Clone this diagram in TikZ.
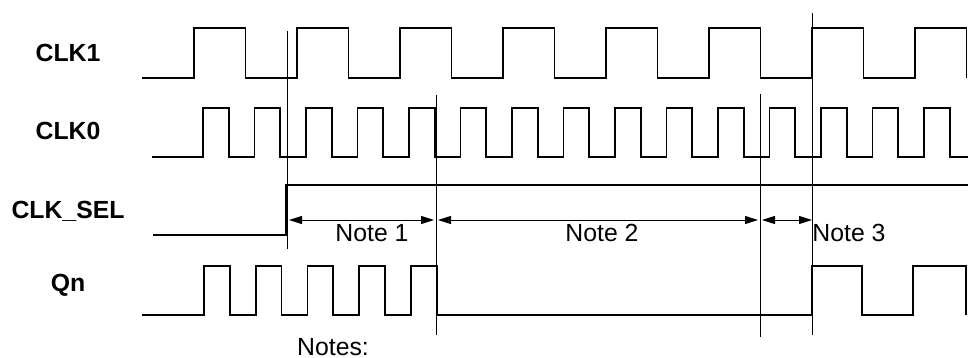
\documentclass[tikz,border=0pt]{standalone}
\usepackage{fontspec}
\setmainfont{Liberation Sans}
\usetikzlibrary{arrows.meta}
\tikzset{
  wave/.style={
    line width=0.9pt, line join=miter,
  },
  guide/.style={
    line width=0.5pt,
  },
  span/.style={
    line width=0.5pt,
    {Triangle[length=6.5pt,width=4pt]}-{Triangle[length=6.5pt,width=4pt]},
    shorten <=1pt, shorten >=1pt,
  },
  signame/.style={
    anchor=base, font=\fontsize{12.4}{14}\selectfont\bfseries,
  },
  notetext/.style={
    anchor=base, inner sep=0pt, font=\fontsize{12.4}{14}\selectfont,
  },
}

\begin{document}
\begin{tikzpicture}[x=0.5pt, y=-0.5pt]
\useasboundingbox (0,0) rectangle (968,358);

% signal names
\foreach \s/\y [count=\i] in { CLK1/62, CLK0/140, CLK\_SEL/218, Qn/291 }
  \node[signame] (sig\i) at (68,\y) {\s};

% CLK1
\draw[wave] (142,78)
  \foreach \k in { 0,...,7 } {
    -- (194+\k*103,78) -- (194+\k*103,28) -- (245.5+\k*103,28) -- (245.5+\k*103,78)
  };
% CLK0
\draw[wave] (152,157)
  \foreach \k in { 0,...,14 } {
    -- (203+\k*51.5,157) -- (203+\k*51.5,108) -- (228.75+\k*51.5,108) -- (228.75+\k*51.5,157)
  } -- (968,157);
% CLK_SEL
\draw[wave] (153,235) -- (286,235) -- (286,185) -- (968,185);
% Qn
\draw[wave] (142,315)
  \foreach \k in { 0,...,4 } {
    -- (204+\k*51.75,315) -- (204+\k*51.75,266) -- (229.75+\k*51.75,266) -- (229.75+\k*51.75,315)
  } -- (812,315) -- (812,266) -- (862,266) -- (862,315) -- (913,315)
  -- (913,266) -- (966,266) -- (966,315);

% guide lines
\foreach \n/\x/\t/\b in { 1/287/31/249, 2/436/95/335, 3/760/94/337, 4/812/13/335 } {
  \coordinate (g\n-top) at (\x,\t);
  \coordinate (g\n-bot) at (\x,\b);
  \coordinate (m\n) at (\x,220);
  \draw[guide] (g\n-top) -- (g\n-bot);
}

% spans
\draw[span] (m1) -- (m2);
\draw[span] (m2) -- (m3);
\draw[span, shorten >=0pt] (m3) -- (m4);

\node[notetext] (note1) at (372,241) {Note 1};
\node[notetext] (note2) at (602,241) {Note 2};
\node[notetext, anchor=base west] (note3) at (812,241) {Note 3};
\node[notetext] (notes) at (333,355) {Notes:};
\end{tikzpicture}
\end{document}
